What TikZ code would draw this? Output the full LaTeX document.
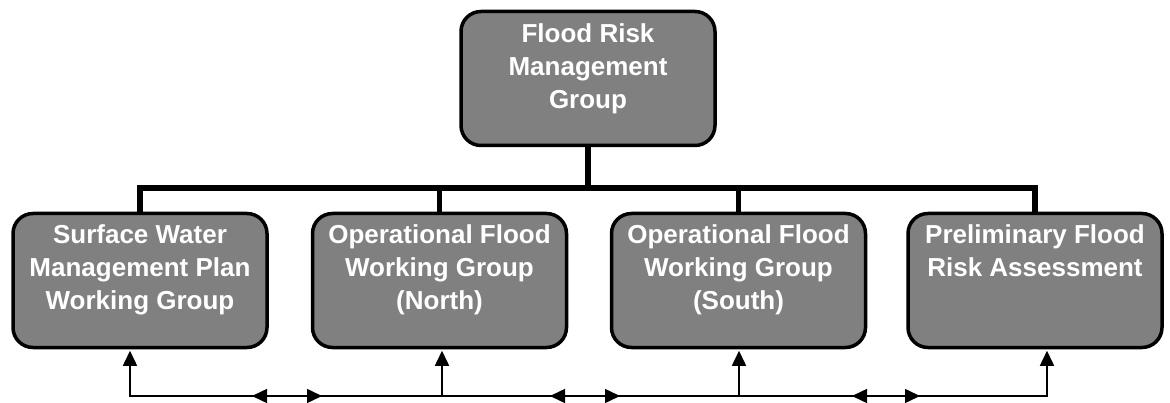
\documentclass[tikz,border=0pt]{standalone}
\usepackage{fontspec}
\setmainfont{Liberation Sans}
\usetikzlibrary{arrows.meta,calc}
\begin{document}
\begin{tikzpicture}[x=1pt,y=-1pt,
  >={Triangle[length=15pt,width=14pt]},
  box/.style={draw=black, line width=3.5pt, fill={rgb,255:red,128;green,128;blue,128}, rounded corners=20pt, minimum width=254pt, minimum height=134pt, inner sep=0pt},
  lbl/.style={text=white, font=\fontsize{26}{33}\selectfont\bfseries, align=center, anchor=north, inner sep=0pt},
  trunk/.style={line width=5.5pt, line join=miter},
  conn/.style={line width=1.5pt}]
\useasboundingbox (0,0) rectangle (1170,403);
% boxes
\node[box] (top) at (588,78.5) {};
\node[box] (b1) at (140,280.5) {};
\node[box] (b2) at (439.5,280.5) {};
\node[box] (b3) at (738.5,280.5) {};
\node[box] (b4) at (1035,280.5) {};
% labels
\node[lbl] (ttop) at ($(top.north)+(0,14)$) {Flood Risk\\Management\\Group};
\node[lbl] (t1) at ($(b1.north)+(0,13)$) {Surface Water\\Management Plan\\Working Group};
\node[lbl] (t2) at ($(b2.north)+(0,13)$) {Operational Flood\\Working Group\\(North)};
\node[lbl] (t3) at ($(b3.north)+(0,13)$) {Operational Flood\\Working Group\\(South)};
\node[lbl] (t4) at ($(b4.north)+(0,13)$) {Preliminary Flood\\Risk Assessment};
% trunk lines
\coordinate (bar) at (588,188);
\draw[trunk] (top.south) -- (top.south |- bar);
\draw[trunk] (b1.north) -- (b1.north |- bar) -- (b4.north |- bar) -- (b4.north);
\draw[trunk] (b2.north) -- (b2.north |- bar);
\draw[trunk] (b3.north) -- (b3.north |- bar);
% bottom connectors
\coordinate (low) at (588,396);
\coordinate (a1) at ($(b1.south)+(-10,1.5)$);
\coordinate (a2) at ($(b2.south)+(2.5,1.5)$);
\coordinate (a3) at ($(b3.south)+(0.5,1.5)$);
\coordinate (a4) at ($(b4.south)+(12,1.5)$);
\draw[conn,<->] (a1) -- (a1 |- low) -- (a4 |- low) -- (a4);
\draw[conn,->] (a2 |- low) -- (a2);
\draw[conn,->] (a3 |- low) -- (a3);
\coordinate (d1l) at (252,396);
\coordinate (d1r) at (322,396);
\coordinate (d2l) at (550,396);
\coordinate (d2r) at (620,396);
\coordinate (d3l) at (852,396);
\coordinate (d3r) at (920,396);
\draw[conn,<->] (d1l) -- (d1r);
\draw[conn,<->] (d2l) -- (d2r);
\draw[conn,<->] (d3l) -- (d3r);
\end{tikzpicture}
\end{document}
